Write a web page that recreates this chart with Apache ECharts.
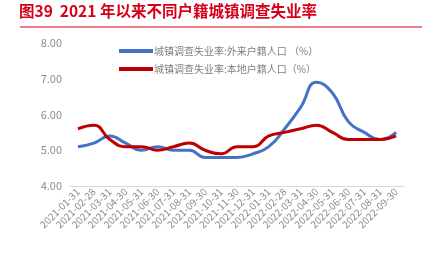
<!DOCTYPE html>
<html><head><meta charset="utf-8">
<script src="https://cdn.jsdelivr.net/npm/echarts@6/dist/echarts.min.js"></script>
<style>html,body{margin:0;padding:0;background:#fff}#c{width:432px;height:266px}</style>
</head><body><div id="c"></div>
<script>
const categories = ['2021-01-31','2021-02-28','2021-03-31','2021-04-30','2021-05-31','2021-06-30','2021-07-31','2021-08-31','2021-09-30','2021-10-31','2021-11-30','2021-12-31','2022-01-31','2022-02-28','2022-03-31','2022-04-30','2022-05-31','2022-06-30','2022-07-31','2022-08-31','2022-09-30'];
const migrant = [5.1,5.2,5.4,5.2,5.0,5.1,5.0,5.0,4.8,4.8,4.8,4.9,5.1,5.6,6.2,6.9,6.6,5.8,5.5,5.3,5.5];
const local = [5.6,5.7,5.3,5.1,5.1,5.0,5.1,5.2,5.0,4.9,5.1,5.1,5.4,5.5,5.6,5.7,5.5,5.3,5.3,5.3,5.4];
const yTicks = [4,5,6,7,8];
const seriesNames = ['城镇调查失业率:外来户籍人口 （%）','城镇调查失业率:本地户籍人口（%）'];
const chart = echarts.init(document.getElementById('c'));
chart.setOption({
  animation:false,
  textStyle:{fontFamily:'"Noto Sans CJK SC", "Noto Sans", sans-serif'},
  graphic:[
    {type:'text',left:19,top:3,style:{text:'图39  2021 年以来不同户籍城镇调查失业率',fill:'#D7001B',font:'bold 15.5px "Noto Sans CJK SC", sans-serif'}},
    {type:'line',shape:{x1:20,y1:27,x2:422,y2:27},style:{stroke:'#D7001B',lineWidth:1}}
  ],
  legend:{orient:'vertical',left:114,top:41,itemWidth:34,itemHeight:4,itemGap:8,icon:'rect',
    textStyle:{color:'#7f7f7f',fontSize:10,padding:[0,0,0,-4]},data:seriesNames},
  grid:{left:70,right:28,top:43,bottom:80,containLabel:false},
  xAxis:{type:'category',data:categories,boundaryGap:true,
    axisLine:{lineStyle:{color:'#d9d9d9'}},axisTick:{show:false},
    axisLabel:{interval:0,rotate:45,color:'#8c8c8c',fontSize:10,margin:4}},
  yAxis:{type:'value',min:4,max:8,interval:1,
    axisLine:{show:false},axisTick:{show:false},splitLine:{show:false},
    axisLabel:{color:'#8c8c8c',fontSize:11,margin:8,formatter:v=>yTicks.includes(v)?v.toFixed(2):''}},
  series:[
    {name:seriesNames[0],type:'line',data:migrant,smooth:true,symbol:'none',lineStyle:{color:'#4472C4',width:3},itemStyle:{color:'#4472C4'}},
    {name:seriesNames[1],type:'line',data:local,smooth:true,symbol:'none',lineStyle:{color:'#C00000',width:3},itemStyle:{color:'#C00000'}}
  ]
});
</script></body></html>
